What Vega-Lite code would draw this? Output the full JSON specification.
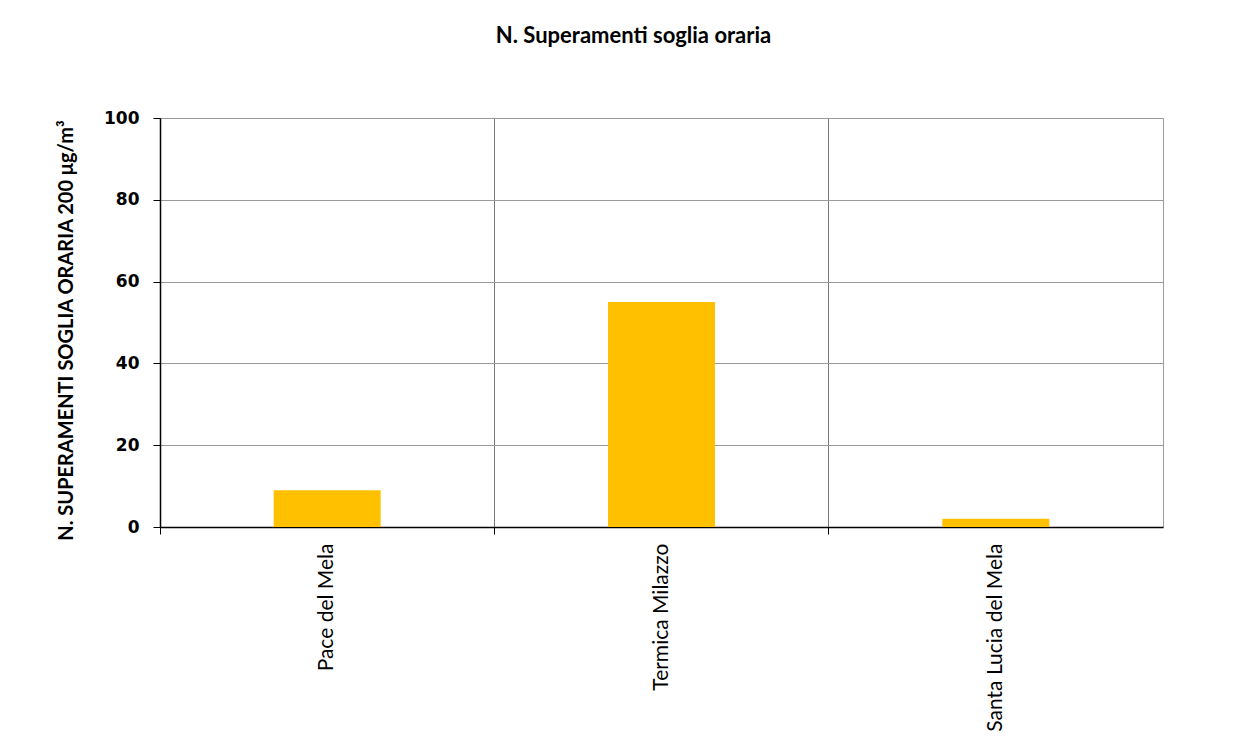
{
  "$schema": "https://vega.github.io/schema/vega-lite/v6.json",
  "width": 1003,
  "height": 409,
  "autosize": {"type": "none"},
  "padding": {"left": 160, "top": 118, "right": 80, "bottom": 228},
  "background": "white",
  "title": {
    "text": "N. Superamenti soglia oraria",
    "font": "Lato",
    "fontSize": 22,
    "fontWeight": "bold",
    "color": "black",
    "anchor": "middle",
    "dx": -28,
    "offset": 61
  },
  "data": {
    "values": [
      {"stazione": "Pace del Mela", "superamenti": 9},
      {"stazione": "Termica Milazzo", "superamenti": 55},
      {"stazione": "Santa Lucia del Mela", "superamenti": 2}
    ]
  },
  "encoding": {
    "y": {
      "field": "superamenti",
      "type": "quantitative",
      "scale": {"domain": [0, 100], "nice": false},
      "axis": {
        "title": "N. SUPERAMENTI SOGLIA ORARIA 200 μg/m³",
        "titleFont": "Lato",
        "titleFontSize": 20,
        "titleFontWeight": "bold",
        "titleColor": "black",
        "titlePadding": 27,
        "titleY": 212,
        "values": [0, 20, 40, 60, 80, 100],
        "labelFont": "DejaVu Sans",
        "labelFontSize": 17,
        "labelFontWeight": "bold",
        "labelColor": "black",
        "labelPadding": 14,
        "tickSize": 7,
        "tickColor": "black",
        "domainColor": "black",
        "domainWidth": 1.5,
        "gridColor": "#9a9a9a",
        "gridWidth": 1
      }
    }
  },
  "layer": [
    {
      "mark": {"type": "bar", "opacity": 0},
      "encoding": {
        "x": {
          "field": "stazione",
          "type": "nominal",
          "sort": null,
          "scale": {"paddingInner": 0, "paddingOuter": 0},
          "axis": {
            "orient": "bottom",
            "title": null,
            "labels": false,
            "bandPosition": 0,
            "grid": true,
            "gridColor": "#7a7a7a",
            "gridWidth": 1,
            "ticks": true,
            "tickSize": 7,
            "tickColor": "black",
            "domainColor": "black",
            "domainWidth": 1.5
          }
        }
      }
    },
    {
      "mark": {"type": "bar", "color": "#FFC000"},
      "encoding": {
        "x": {
          "field": "stazione",
          "type": "nominal",
          "sort": null,
          "scale": {"paddingInner": 0.68, "paddingOuter": 0.34},
          "axis": {
            "orient": "bottom",
            "title": null,
            "domain": false,
            "ticks": false,
            "grid": false,
            "labelAngle": -90,
            "labelAlign": "right",
            "labelBaseline": "middle",
            "labelFont": "Lato",
            "labelFontSize": 21,
            "labelFontWeight": "normal",
            "labelColor": "black",
            "labelPadding": 16,
            "labelLimit": 400
          }
        }
      }
    }
  ],
  "resolve": {"scale": {"x": "independent"}, "axis": {"x": "independent"}},
  "config": {
    "view": {"stroke": "#9a9a9a", "strokeWidth": 1}
  }
}
